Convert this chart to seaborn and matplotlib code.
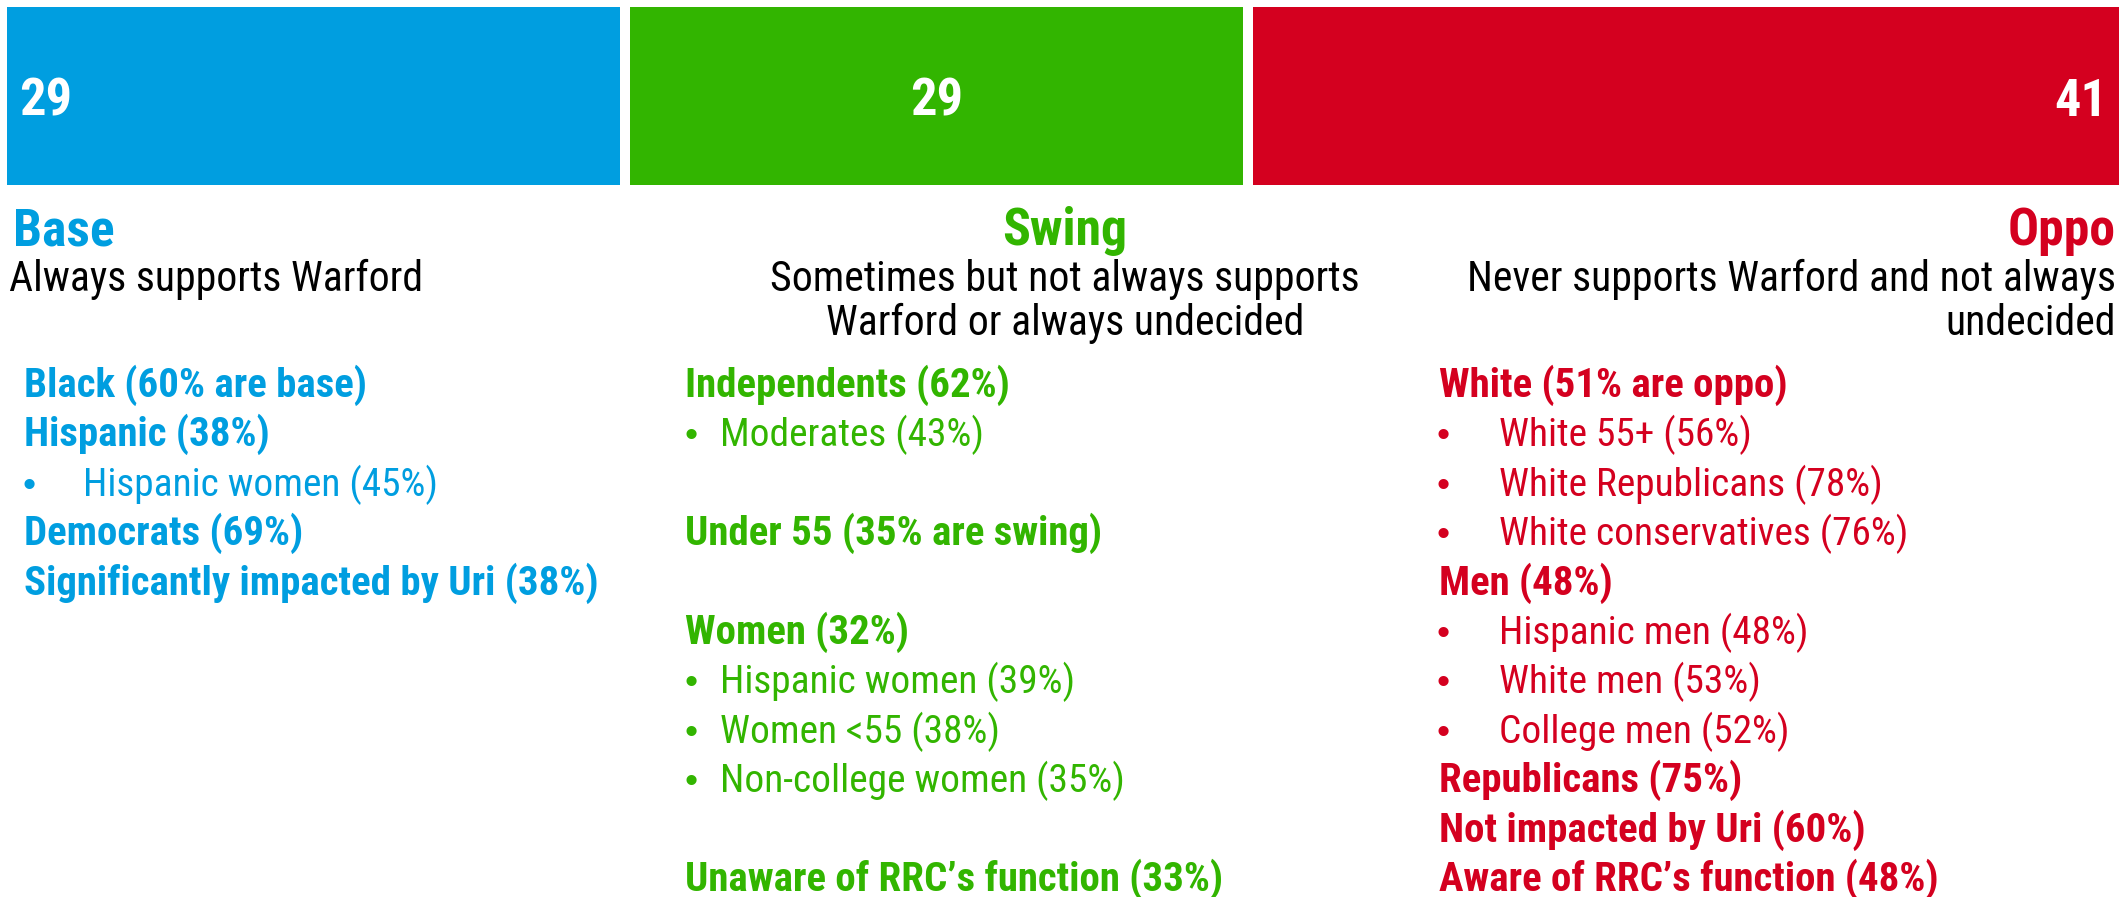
import matplotlib
matplotlib.use("Agg")
import matplotlib.pyplot as plt
from matplotlib import font_manager
import seaborn as sns
import numpy as np
import pandas as pd

# ---------------- data ----------------
segments = ["Base", "Swing", "Oppo"]
values = [29, 29, 41]
colors = ["#009EE0", "#32B500", "#D4001F"]

desc_base = ["Always supports Warford"]
desc_swing = ["Sometimes but not always supports", "Warford or always undecided"]
desc_oppo = ["Never supports Warford and not always", "undecided"]

base_items = ["Black (60% are base)", "Hispanic (38%)", "Hispanic women (45%)",
              "Democrats (69%)", "Significantly impacted by Uri (38%)"]
base_levels = [0, 0, 1, 0, 0]

swing_items = ["Independents (62%)", "Moderates (43%)", "", "Under 55 (35% are swing)", "",
               "Women (32%)", "Hispanic women (39%)", "Women <55 (38%)",
               "Non-college women (35%)", "", "Unaware of RRC\u2019s function (33%)"]
swing_levels = [0, 1, 0, 0, 0, 0, 1, 1, 1, 0, 0]

oppo_items = ["White (51% are oppo)", "White 55+ (56%)", "White Republicans (78%)",
              "White conservatives (76%)", "Men (48%)", "Hispanic men (48%)",
              "White men (53%)", "College men (52%)", "Republicans (75%)",
              "Not impacted by Uri (60%)", "Aware of RRC\u2019s function (48%)"]
oppo_levels = [0, 1, 1, 1, 0, 1, 1, 1, 0, 0, 0]

# ---------------- style ----------------
sns.set_theme(style="white")
avail = {f.name for f in font_manager.fontManager.ttflist}
main_font = next((f for f in ["Liberation Sans Narrow", "Arial Narrow", "Roboto Condensed",
                              "Archivo Narrow", "PT Sans Narrow"] if f in avail), "DejaVu Sans")
plt.rcParams["font.family"] = [main_font, "DejaVu Sans"]
bullet_font = ["Liberation Sans", "DejaVu Sans"]

W, H = 2119, 897
fig = plt.figure(figsize=(W / 100, H / 100), dpi=100)
fig.patch.set_facecolor("white")
renderer = fig.canvas.get_renderer()


def fx(x):
    return x / W


def fy(y):
    return 1 - y / H


def fit_size(s, target_px, weight="normal"):
    t = fig.text(0, 0, s, fontsize=100, fontweight=weight)
    w = t.get_window_extent(renderer).width
    t.remove()
    return 100 * target_px / w


fs_num = fit_size("29", 53, "bold")
fs_hdr = fit_size("Swing", 125, "bold")
fs_desc = fit_size("Always supports Warford", 414)
fs_body = fit_size("Significantly impacted by Uri (38%)", 575, "bold")
fs_sub = fit_size("Hispanic women (45%)", 355)

# ---------------- bar ----------------
bar_top, bar_bot = 2, 190
ax = fig.add_axes([0, fy(bar_bot), 1, (bar_bot - bar_top) / H])
cum = np.cumsum(values)
df = pd.DataFrame({"segment": segments, "value": values, "cum": cum})
for i in reversed(range(len(segments))):
    sns.barplot(x=[df["cum"][i]], y=[0], orient="h", color=colors[i], saturation=1,
                edgecolor="white", linewidth=7.2, width=1.0, ax=ax)
px_per_unit = 21.48
x0_px = 2
ax.set_xlim(-x0_px / px_per_unit, (W - x0_px) / px_per_unit)
ax.set_ylim(0.5, -0.5)
ax.axis("off")

# value labels
starts = cum - np.array(values)
ax.text(starts[0] + 17 / px_per_unit, 0.03, str(values[0]), color="white",
        fontsize=fs_num, fontweight="bold", ha="left", va="center")
ax.text(starts[1] + values[1] / 2, 0.03, str(values[1]), color="white",
        fontsize=fs_num, fontweight="bold", ha="center", va="center")
ax.text((2054 - x0_px) / px_per_unit, 0.03, str(values[2]), color="white",
        fontsize=fs_num, fontweight="bold", ha="left", va="center")

# ---------------- headers ----------------
hdr_base = 245
x_right = 2116
fig.text(fx(13), fy(hdr_base), segments[0], color=colors[0], fontsize=fs_hdr,
         fontweight="bold", ha="left", va="baseline")
fig.text(fx(1065), fy(hdr_base), segments[1], color=colors[1], fontsize=fs_hdr,
         fontweight="bold", ha="center", va="baseline")
fig.text(fx(x_right), fy(hdr_base), segments[2], color=colors[2], fontsize=fs_hdr,
         fontweight="bold", ha="right", va="baseline")

d1, d2 = 291, 335
fig.text(fx(9), fy(d1), desc_base[0], color="black", fontsize=fs_desc, ha="left", va="baseline")
fig.text(fx(1065), fy(d1), desc_swing[0], color="black", fontsize=fs_desc, ha="center", va="baseline")
fig.text(fx(1065), fy(d2), desc_swing[1], color="black", fontsize=fs_desc, ha="center", va="baseline")
fig.text(fx(x_right), fy(d1), desc_oppo[0], color="black", fontsize=fs_desc, ha="right", va="baseline")
fig.text(fx(x_right), fy(d2), desc_oppo[1], color="black", fontsize=fs_desc, ha="right", va="baseline")

# ---------------- lists ----------------
line0, step = 397, 49.4


def draw_list(items, levels, color, x_main, x_bullet, x_sub):
    for k, (t, lv) in enumerate(zip(items, levels)):
        if not t:
            continue
        y = fy(line0 + k * step)
        if lv == 0:
            fig.text(fx(x_main), y, t, color=color, fontsize=fs_body, fontweight="bold",
                     ha="left", va="baseline")
        else:
            fig.text(fx(x_bullet), y, "\u2022", color=color, fontsize=fs_sub * 0.95,
                     family=bullet_font, ha="left", va="baseline")
            fig.text(fx(x_sub), y, t, color=color, fontsize=fs_sub,
                     ha="left", va="baseline")


draw_list(base_items, base_levels, colors[0], 24, 22, 83)
draw_list(swing_items, swing_levels, colors[1], 685, 684, 720)
draw_list(oppo_items, oppo_levels, colors[2], 1439, 1437, 1499)

fig.savefig("out.png", dpi=100, facecolor="white")
